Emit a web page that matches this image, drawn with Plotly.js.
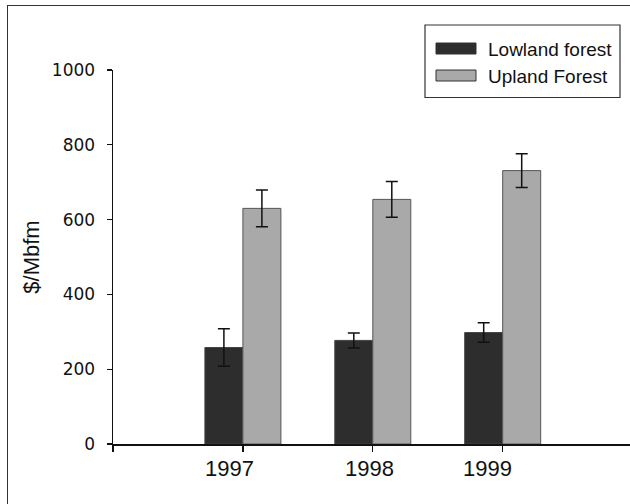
<!DOCTYPE html>
<html>
<head>
<meta charset="utf-8">
<script src="https://cdn.plot.ly/plotly-3.0.1.min.js"></script>
<style>
  html, body { margin: 0; padding: 0; background: #fff; }
  #wrap { position: relative; width: 630px; height: 504px; overflow: hidden; }
  #chart { width: 630px; height: 504px; }
  #frame { position: absolute; left: 7px; top: 5px; width: 700px; height: 600px;
           border: 1.5px solid #333; pointer-events: none; box-sizing: border-box; }
</style>
</head>
<body>
<div id="wrap">
  <div id="chart"></div>
  <div id="frame"></div>
</div>
<script>
// ---- data ----
const years = [1997, 1998, 1999];
const yearLabels = ["1997", "1998", "1999"];
const seriesNames = ["Lowland forest", "Upland Forest"];
const lowland = [258, 277, 298];
const lowlandErr = [50, 20, 26];
const upland = [630, 654, 731];
const uplandErr = [49, 48, 45];
const yTicks = [0, 200, 400, 600, 800, 1000];

// ---- style ----
const colors = ['#2d2d2d', '#a9a9a9'];
const outlines = ['#444', '#555'];
const labelFont = "'Comic Sans MS', 'Liberation Sans', Arial, sans-serif";
const W = 630, H = 504, M = { l: 113, r: 0, t: 70, b: 60 };
const pw = W - M.l - M.r, ph = H - M.t - M.b;
const px = X => (X - M.l) / pw;          // pixel -> paper (x)
const py = Y => (H - M.b - Y) / ph;      // pixel -> paper (y)

const traces = [
  {
    type: 'bar', name: seriesNames[0], x: years, y: lowland,
    marker: { color: colors[0], line: { color: outlines[0], width: 1 } },
    error_y: { type: 'data', array: lowlandErr, visible: true, color: '#111', thickness: 1.5, width: 6 }
  },
  {
    type: 'bar', name: seriesNames[1], x: years, y: upland,
    marker: { color: colors[1], line: { color: outlines[1], width: 1 } },
    error_y: { type: 'data', array: uplandErr, visible: true, color: '#111', thickness: 1.5, width: 6 }
  }
];

// year captions (slightly offset, as in the original figure)
const labelShift = [-13, -3, -15];
const annotations = years.map((yr, i) => ({
  x: yr, y: 0, xref: 'x', yref: 'paper', text: yearLabels[i],
  showarrow: false, xanchor: 'center', yanchor: 'middle', yshift: -24, xshift: labelShift[i],
  font: { family: labelFont, size: 22, color: '#111' }
}));

// hand-drawn legend box (wide swatches like the original)
const shapes = [{
  type: 'rect', xref: 'paper', yref: 'paper',
  x0: px(425), x1: px(620), y0: py(25), y1: py(97.5),
  line: { color: '#333', width: 1.2 }, fillcolor: '#fff', layer: 'above'
}];
const rowY = [48.5, 75.5];
seriesNames.forEach((name, i) => {
  shapes.push({
    type: 'rect', xref: 'paper', yref: 'paper',
    x0: px(436), x1: px(476), y0: py(rowY[i] - 5.5), y1: py(rowY[i] + 5.5),
    line: { color: '#333', width: 1 }, fillcolor: colors[i], layer: 'above'
  });
  annotations.push({
    x: px(486), y: py(rowY[i] + 1), xref: 'paper', yref: 'paper', text: name,
    showarrow: false, xanchor: 'left', yanchor: 'middle',
    font: { family: labelFont, size: 19, color: '#111' }
  });
});

const layout = {
  width: W, height: H,
  margin: M,
  paper_bgcolor: '#fff', plot_bgcolor: '#fff',
  barmode: 'group', bargap: 0.415, bargroupgap: 0,
  showlegend: false,
  xaxis: {
    range: [1996, 1999.98], tickmode: 'array', tickvals: [1996].concat(years),
    showticklabels: false, ticks: 'outside', ticklen: 6, tickwidth: 1.2, tickcolor: '#111',
    showline: true, linecolor: '#111', linewidth: 1.5, showgrid: false, zeroline: false,
    fixedrange: true
  },
  yaxis: {
    range: [0, 1000], tickmode: 'array', tickvals: yTicks, ticktext: yTicks.map(String),
    ticks: 'outside', ticklen: 5, tickwidth: 1.2, tickcolor: '#111',
    showline: true, linecolor: '#111', linewidth: 1.5, showgrid: false, zeroline: false,
    ticklabelstandoff: 8,
    tickfont: { family: "'DejaVu Sans', Verdana, sans-serif", size: 17, color: '#111' },
    title: { text: '$/Mbfm', standoff: 6, font: { family: "'Liberation Sans', Arial, sans-serif", size: 22, color: '#111' } },
    fixedrange: true
  },
  shapes: shapes,
  annotations: annotations
};

Plotly.newPlot('chart', traces, layout, { displayModeBar: false, staticPlot: true });
</script>
</body>
</html>
